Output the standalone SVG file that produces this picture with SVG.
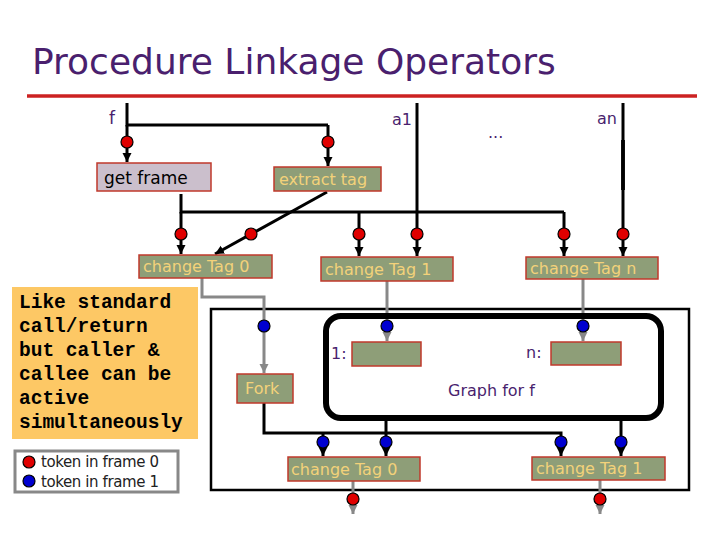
<svg xmlns="http://www.w3.org/2000/svg" width="720" height="540" viewBox="0 0 720 540">
<defs>
<style>
.lbl{font-family:"DejaVu Sans",Verdana,sans-serif;fill:#4a1f6e}
.box{fill:#8e9e78;stroke:#c0392b;stroke-width:1.5}
.btxt{font-family:"DejaVu Sans",Verdana,sans-serif;font-size:16px;fill:#f3d27a}
.wk{fill:none;stroke:#000;stroke-width:3}
.wg{fill:none;stroke:#888;stroke-width:3}
.rd{fill:#e00000;stroke:#000;stroke-width:1.2}
.bl{fill:#0000d0;stroke:#000;stroke-width:1.2}
.note{font-family:"Liberation Mono","Courier New",monospace;font-weight:bold;font-size:19.5px;fill:#000}
</style>
<marker id="ak" markerUnits="userSpaceOnUse" markerWidth="10" markerHeight="10" refX="9" refY="4.5" orient="auto"><path d="M0,0 L9,4.5 L0,9 z" fill="#000"/></marker>
<marker id="ag" markerUnits="userSpaceOnUse" markerWidth="10" markerHeight="10" refX="9" refY="4.5" orient="auto"><path d="M0,0 L9,4.5 L0,9 z" fill="#888"/></marker>
</defs>
<rect width="720" height="540" fill="#fff"/>
<text x="32" y="74" class="lbl" font-size="36">Procedure Linkage Operators</text>
<line x1="27" y1="96" x2="697" y2="96" stroke="#cc2222" stroke-width="3.5"/>

<g id="labels">
<text x="109" y="124" class="lbl" font-size="17">f</text>
<text x="392" y="125" class="lbl" font-size="16">a1</text>
<text x="597" y="124" class="lbl" font-size="16">an</text>
<text x="488" y="138" class="lbl" font-size="16">...</text>
</g>

<g id="frame">
<rect x="211" y="309" width="478" height="181" fill="none" stroke="#000" stroke-width="2.5"/>
</g>

<g id="connectors">
<polyline class="wk" points="127,103 127,125 328,125"/>
<line class="wk" x1="127" y1="125" x2="127" y2="162" marker-end="url(#ak)"/>
<line class="wk" x1="328" y1="125" x2="328" y2="166" marker-end="url(#ak)"/>
<polyline class="wk" points="181,194 181,212 564,212"/>
<line class="wk" x1="181" y1="212" x2="181" y2="254" marker-end="url(#ak)"/>
<line class="wk" x1="359" y1="212" x2="359" y2="256" marker-end="url(#ak)"/>
<line class="wk" x1="564" y1="212" x2="564" y2="256" marker-end="url(#ak)"/>
<line class="wk" x1="417" y1="103" x2="417" y2="256" marker-end="url(#ak)"/>
<line class="wk" x1="623" y1="103" x2="623" y2="256" marker-end="url(#ak)"/>
<line x1="623" y1="140" x2="623" y2="190" stroke="#000" stroke-width="3.8"/>
<line class="wk" x1="327" y1="192" x2="215" y2="254" marker-end="url(#ak)"/>
<polyline class="wg" points="202,278 202,297 264,297 264,373" marker-end="url(#ag)"/>
<line class="wg" x1="387" y1="281" x2="387" y2="341" marker-end="url(#ag)"/>
<line class="wg" x1="583" y1="279" x2="583" y2="341" marker-end="url(#ag)"/>
<polyline class="wk" points="264,403 264,433 561,433 561,456" marker-end="url(#ak)"/>
<line class="wk" x1="323" y1="433" x2="323" y2="456" marker-end="url(#ak)"/>
<line class="wk" x1="386" y1="418" x2="386" y2="456" marker-end="url(#ak)"/>
<line class="wk" x1="621" y1="418" x2="621" y2="456" marker-end="url(#ak)"/>
<line class="wg" x1="353" y1="481" x2="353" y2="514" marker-end="url(#ag)"/>
<line class="wg" x1="600" y1="480" x2="600" y2="514" marker-end="url(#ag)"/>
</g>

<g id="tokens">
<circle class="rd" cx="127" cy="142" r="6"/>
<circle class="rd" cx="328" cy="142" r="6"/>
<circle class="rd" cx="181" cy="234" r="6"/>
<circle class="rd" cx="251" cy="234" r="6"/>
<circle class="rd" cx="359" cy="234" r="6"/>
<circle class="rd" cx="417" cy="234" r="6"/>
<circle class="rd" cx="564" cy="234" r="6"/>
<circle class="rd" cx="623" cy="234" r="6"/>
<circle class="bl" cx="264" cy="326" r="6"/>
<circle class="bl" cx="387" cy="326" r="6"/>
<circle class="bl" cx="583" cy="326" r="6"/>
<circle class="bl" cx="323" cy="442" r="6"/>
<circle class="bl" cx="386" cy="442" r="6"/>
<circle class="bl" cx="561" cy="442" r="6"/>
<circle class="bl" cx="621" cy="442" r="6"/>
<circle class="rd" cx="353" cy="499" r="6"/>
<circle class="rd" cx="600" cy="499" r="6"/>
</g>

<g id="get-frame">
<rect x="97" y="163" width="114" height="28" fill="#cbbfcc" stroke="#c0392b" stroke-width="1.5"/>
<text x="104" y="184" font-family="DejaVu Sans,Verdana,sans-serif" font-size="17" fill="#000">get frame</text>
</g>
<g id="extract-tag">
<rect class="box" x="274" y="167" width="107" height="24"/>
<text x="279" y="185" class="btxt">extract tag</text>
</g>
<g id="change-tag-0-top">
<rect class="box" x="139" y="255" width="133" height="23"/>
<text x="143" y="272" class="btxt">change Tag 0</text>
</g>
<g id="change-tag-1-top">
<rect class="box" x="321" y="257" width="132" height="24"/>
<text x="325" y="275" class="btxt">change Tag 1</text>
</g>
<g id="change-tag-n">
<rect class="box" x="526" y="257" width="132" height="22"/>
<text x="530" y="274" class="btxt">change Tag n</text>
</g>
<g id="graph-for-f">
<rect x="326" y="316" width="335" height="102" rx="15" fill="none" stroke="#000" stroke-width="6"/>
<text x="331" y="359" class="lbl" font-size="16">1:</text>
<rect class="box" x="352" y="342" width="69" height="24"/>
<text x="526" y="358" class="lbl" font-size="16">n:</text>
<rect class="box" x="551" y="342" width="70" height="23"/>
<text x="448" y="396" class="lbl" font-size="16">Graph for f</text>
</g>
<g id="fork">
<rect class="box" x="237" y="374" width="56" height="29"/>
<text x="245" y="394" class="btxt">Fork</text>
</g>
<g id="change-tag-0-bottom">
<rect class="box" x="288" y="457" width="132" height="24"/>
<text x="291" y="475" class="btxt">change Tag 0</text>
</g>
<g id="change-tag-1-bottom">
<rect class="box" x="532" y="457" width="133" height="23"/>
<text x="536" y="474" class="btxt">change Tag 1</text>
</g>

<g id="note">
<rect x="12" y="287" width="186" height="152" fill="#fdc865"/>
<text class="note"><tspan x="19" y="308">Like standard</tspan><tspan x="19" y="332">call/return</tspan><tspan x="19" y="356">but caller &amp;</tspan><tspan x="19" y="380">callee can be</tspan><tspan x="19" y="404">active</tspan><tspan x="19" y="428">simultaneously</tspan></text>
</g>
<g id="legend">
<rect x="15" y="451" width="163" height="41" fill="#fff" stroke="#888" stroke-width="3"/>
<circle class="rd" cx="29" cy="462" r="6"/>
<circle class="bl" cx="29" cy="481" r="6"/>
<text x="41" y="467" font-family="DejaVu Sans,Verdana,sans-serif" font-size="15" fill="#222" letter-spacing="-0.4">token in frame 0</text>
<text x="41" y="487" font-family="DejaVu Sans,Verdana,sans-serif" font-size="15" fill="#222" letter-spacing="-0.4">token in frame 1</text>
</g>
</svg>
